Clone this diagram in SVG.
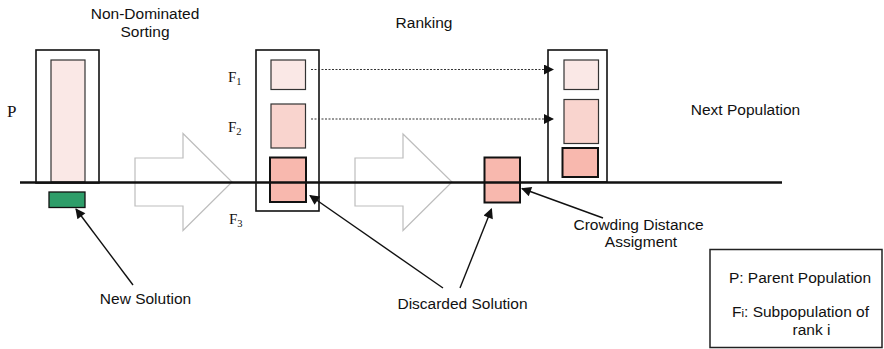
<svg xmlns="http://www.w3.org/2000/svg" width="884" height="349" viewBox="0 0 884 349">
<style>
.t{font-family:"Liberation Sans",Arial,sans-serif;font-size:15.5px;fill:#111;text-anchor:middle}
.s{font-family:"Liberation Serif","Times New Roman",serif;fill:#111}
.box{fill:#fff;stroke:#111;stroke-width:1.6}
.f1{fill:#fae8e6;stroke:#333;stroke-width:1.2}
.f2{fill:#f9d4ce;stroke:#333;stroke-width:1.2}
.f3{fill:#f8b8ae;stroke:#111;stroke-width:2}
.big{fill:#fff;stroke:#bdbdbd;stroke-width:1.2}
.ptr{stroke:#111;stroke-width:1.4;fill:none;marker-end:url(#ah)}
.dot{stroke:#333;stroke-width:1.2;stroke-dasharray:2 1.5;fill:none;marker-end:url(#ah)}
</style>
<defs>
<marker id="ah" viewBox="0 0 10 10" refX="9" refY="5" markerWidth="13" markerHeight="10" markerUnits="userSpaceOnUse" orient="auto">
<path d="M0,0 L10,5 L0,10 Z" fill="#111"/>
</marker>
</defs>
<rect width="884" height="349" fill="#fff"/>

<g id="arrows-big">
<path class="big" d="M135,158 H183 V133.5 L232,182 L183,230.5 V206 H135 Z"/>
<path class="big" d="M355,158 H403 V134 L452,182 L403,230.5 V206 H355 Z"/>
</g>

<g id="parent">
<rect class="box" x="36" y="50" width="63" height="133"/>
<rect class="f1" x="51" y="60" width="34" height="122"/>
<text class="s" x="7" y="117" font-size="17">P</text>
</g>

<g id="ranking">
<rect class="box" x="256" y="50" width="63" height="161"/>
<rect class="f1" x="271" y="60" width="34.5" height="29.5"/>
<rect class="f2" x="271" y="104" width="34.5" height="44"/>
<rect class="f3" x="270" y="157.5" width="36" height="44.5"/>
<text class="s" x="228" y="82" font-size="15">F<tspan font-size="10.5" dy="3">1</tspan></text>
<text class="s" x="228" y="131.5" font-size="15">F<tspan font-size="10.5" dy="3">2</tspan></text>
<text class="s" x="229" y="224" font-size="15">F<tspan font-size="10.5" dy="3">3</tspan></text>
</g>

<g id="next">
<rect class="box" x="548" y="50" width="59" height="132"/>
<rect class="f1" x="564" y="60" width="34.5" height="29.5"/>
<rect class="f2" x="564" y="99.5" width="34.5" height="44"/>
<rect class="f3" x="562.5" y="148" width="35.5" height="29"/>
</g>

<g id="discarded">
<rect class="f3" x="484.5" y="157.5" width="35.5" height="45"/>
</g>

<g id="newsol">
<rect x="49" y="192" width="36" height="15.5" fill="#2e9d69" stroke="#111" stroke-width="1.3"/>
</g>

<g id="baseline">
<line x1="20" y1="182.5" x2="782" y2="182.5" stroke="#111" stroke-width="2.6"/>
</g>

<g id="connectors">
<line class="dot" x1="311" y1="69.5" x2="553" y2="69.5"/>
<line class="dot" x1="311" y1="119" x2="553" y2="119"/>
<line class="ptr" x1="133" y1="285" x2="76" y2="209"/>
<line class="ptr" x1="443" y1="288" x2="310" y2="195.5"/>
<line class="ptr" x1="460" y1="288" x2="491.5" y2="209"/>
<line class="ptr" x1="603" y1="218" x2="522" y2="188.5"/>
</g>

<g id="labels">
<text class="t" x="145" y="19">Non-Dominated</text>
<text class="t" x="145" y="37">Sorting</text>
<text class="t" x="424" y="28">Ranking</text>
<text class="t" x="745.5" y="115">Next Population</text>
<text class="t" x="638.5" y="229.5">Crowding Distance</text>
<text class="t" x="641" y="247">Assigment</text>
<text class="t" x="145.5" y="304">New Solution</text>
<text class="t" x="462.5" y="309">Discarded Solution</text>
</g>

<g id="legend">
<rect x="710" y="249.5" width="172" height="98" fill="#fff" stroke="#222" stroke-width="1.5"/>
<text class="t" x="800" y="282.5" font-size="15.8">P: Parent Population</text>
<text class="t" x="800.5" y="316.5" font-size="15.8">F<tspan font-size="11.5">i</tspan>: Subpopulation of</text>
<text class="t" x="811.5" y="334.5" font-size="15.8">rank i</text>
</g>
</svg>
